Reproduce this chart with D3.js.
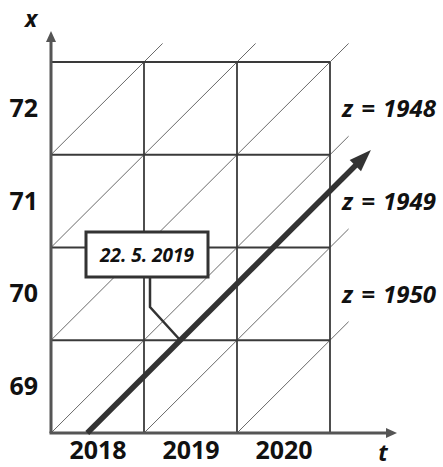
<!DOCTYPE html>
<html>
<head>
<meta charset="utf-8">
<script src="https://cdn.jsdelivr.net/npm/d3@7"></script>
<style>
  body { margin: 0; background: #fff; }
  svg { display: block; font-family: "Open Sans", "Noto Sans", sans-serif; }
</style>
</head>
<body>
<svg width="443" height="467"></svg>
<script>
// Lexis diagram data
const years = [2018, 2019, 2020];          // calendar years (columns)
const ages = [69, 70, 71, 72];             // completed age (rows)
const cohorts = [1946, 1947, 1948, 1949, 1950, 1951];  // diagonal life lines, z = t - x
const cohortLabels = [1948, 1949, 1950];   // labelled generations
const cohortLabelAges = [72, 71, 70];
const birth = 1949.39;                     // 22. 5. 1949
const lifeAges = [69, 72.05];
const calloutAge = 70;
const calloutText = "22. 5. 2019";

const svg = d3.select("svg");

const tScale = d3.scaleLinear().domain([2018, 2021]).range([51, 330]);
const xScale = d3.scaleLinear().domain([69, 73]).range([433, 62]);

const gridColor = "#3a3a3a";
const axisColor = "#555";

// thin diagonals (cohort lines)
const ext = 0.2;
const diag = svg.append("g");
cohorts.forEach(z => {
    let t0, x0;
    if (z + 69 >= 2018) { t0 = z + 69; x0 = 69; } else { t0 = 2018; x0 = 2018 - z; }
    let t1, x1;
    if (z + 73 <= 2021) { t1 = z + 73; x1 = 73; } else { t1 = 2021; x1 = 2021 - z; }
    diag.append("line")
        .attr("x1", tScale(t0)).attr("y1", xScale(x0))
        .attr("x2", tScale(t1 + ext)).attr("y2", xScale(x1 + ext))
        .attr("stroke", "#6a6a6a")
        .attr("stroke-width", 1);
});

// grid
const grid = svg.append("g");
[2018, 2019, 2020, 2021].forEach(t => {
    grid.append("line")
        .attr("x1", tScale(t)).attr("x2", tScale(t))
        .attr("y1", xScale(69)).attr("y2", xScale(73))
        .attr("stroke", gridColor).attr("stroke-width", 1.8);
});
[70, 71, 72, 73].forEach(x => {
    grid.append("line")
        .attr("x1", tScale(2018)).attr("x2", tScale(2021))
        .attr("y1", xScale(x)).attr("y2", xScale(x))
        .attr("stroke", gridColor).attr("stroke-width", 1.8);
});

// axes with arrows
const axes = svg.append("g");
axes.append("line")
    .attr("x1", tScale(2018)).attr("y1", xScale(69))
    .attr("x2", tScale(2018)).attr("y2", 40)
    .attr("stroke", axisColor).attr("stroke-width", 3);
axes.append("path")
    .attr("d", `M${tScale(2018)},31 L${tScale(2018) - 5},42 L${tScale(2018) + 5},42 Z`)
    .attr("fill", axisColor);
axes.append("line")
    .attr("x1", tScale(2018) - 1.5).attr("y1", xScale(69))
    .attr("x2", 388).attr("y2", xScale(69))
    .attr("stroke", axisColor).attr("stroke-width", 3);
axes.append("path")
    .attr("d", `M397,${xScale(69)} L386,${xScale(69) - 5} L386,${xScale(69) + 5} Z`)
    .attr("fill", axisColor);

// tick labels via d3 axes
const yAxis = d3.axisLeft(xScale)
    .tickValues(ages.map(a => a + 0.5))
    .tickFormat(d => Math.floor(d))
    .tickSize(0).tickPadding(13);
const gy = svg.append("g").attr("transform", `translate(${tScale(2018)},0)`).call(yAxis);
gy.select(".domain").remove();
gy.selectAll("text")
    .attr("font-size", 25).attr("font-weight", "bold")
    .attr("font-family", "'Open Sans', sans-serif")
    .attr("fill", "#111");

const xAxis = d3.axisBottom(tScale)
    .tickValues(years.map(y => y + 0.5))
    .tickFormat(d => Math.floor(d))
    .tickSize(0).tickPadding(8);
const gx = svg.append("g").attr("transform", `translate(0,${xScale(69)})`).call(xAxis);
gx.select(".domain").remove();
gx.selectAll("text")
    .attr("font-size", 25).attr("font-weight", "bold")
    .attr("font-family", "'Open Sans', sans-serif")
    .attr("fill", "#111");

// axis names
svg.append("text").attr("x", 31).attr("y", 27)
    .attr("text-anchor", "middle")
    .attr("font-size", 23).attr("font-weight", "bold").attr("font-style", "italic")
    .attr("fill", "#111").text("x");
svg.append("text").attr("x", 383).attr("y", 461)
    .attr("text-anchor", "middle")
    .attr("font-size", 23).attr("font-weight", "bold").attr("font-style", "italic")
    .attr("fill", "#111").text("t");

// cohort labels
cohortLabels.forEach((z, i) => {
    svg.append("text")
        .attr("x", 342)
        .attr("y", xScale(cohortLabelAges[i] + 0.5))
        .attr("dy", "0.36em")
        .attr("font-size", 24).attr("font-weight", "bold").attr("font-style", "italic")
        .attr("word-spacing", 2)
        .attr("fill", "#111")
        .attr("xml:space", "preserve")
        .text("z = " + z);
});

// life line with arrow
const life = lifeAges.map(a => [tScale(birth + a), xScale(a)]);
const ang = Math.atan2(life[1][1] - life[0][1], life[1][0] - life[0][0]);
const headLen = 22, headW = 8;
const baseX = life[1][0] - headLen * Math.cos(ang), baseY = life[1][1] - headLen * Math.sin(ang);
svg.append("line")
    .attr("x1", life[0][0]).attr("y1", life[0][1])
    .attr("x2", baseX + 2 * Math.cos(ang)).attr("y2", baseY + 2 * Math.sin(ang))
    .attr("stroke", "#333").attr("stroke-width", 5.5);
svg.append("path")
    .attr("d", `M${life[1][0]},${life[1][1]}` +
        ` L${baseX - headW * Math.sin(ang)},${baseY + headW * Math.cos(ang)}` +
        ` L${baseX + headW * Math.sin(ang)},${baseY - headW * Math.cos(ang)} Z`)
    .attr("fill", "#333");

// callout
const cx = tScale(birth + calloutAge), cy = xScale(calloutAge);
svg.append("path")
    .attr("d", `M150,276 L150,307 L${cx},${cy}`)
    .attr("fill", "none").attr("stroke", "#333").attr("stroke-width", 2.5);
svg.append("rect")
    .attr("x", 86).attr("y", 232).attr("width", 122).attr("height", 45)
    .attr("fill", "#fff").attr("stroke", "#333").attr("stroke-width", 3);
svg.append("text")
    .attr("x", 147).attr("y", 255).attr("dy", "0.36em")
    .attr("text-anchor", "middle")
    .attr("font-size", 19).attr("font-weight", "bold").attr("font-style", "italic")
    .attr("fill", "#111")
    .text(calloutText);
</script>
</body>
</html>
